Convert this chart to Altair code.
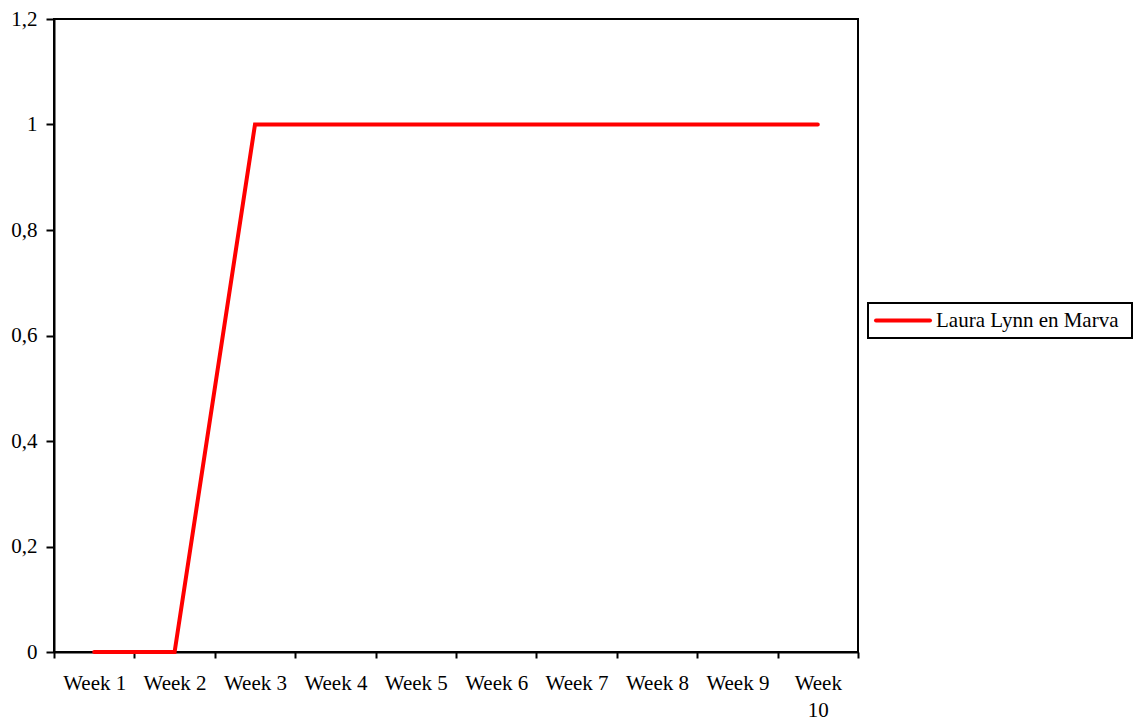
import altair as alt
import pandas as pd

weeks = ["Week 1", "Week 2", "Week 3", "Week 4", "Week 5",
         "Week 6", "Week 7", "Week 8", "Week 9", "Week 10"]
values = [0, 0, 1, 1, 1, 1, 1, 1, 1, 1]
series = "Laura Lynn en Marva"
line_color = "#ff0000"

df = pd.DataFrame({"week": weeks, "value": values, "series": [series] * len(weeks)})
legend_df = pd.DataFrame({"series": [series]})

FONT = "Liberation Serif"
FONT_SIZE = 21

line = (
    alt.Chart(df)
    .mark_line(strokeWidth=4, strokeCap="round", color=line_color)
    .encode(
        x=alt.X(
            "week:N",
            sort=weeks,
            bandPosition=0.5,
            scale=alt.Scale(type="band", paddingInner=0, paddingOuter=0),
            axis=alt.Axis(
                title=None,
                labelAngle=0,
                tickBand="extent",
                labelExpr="datum.value == 'Week 10' ? ['Week', '10'] : datum.value",
                labelLineHeight=27,
                labelPadding=14,
                tickSize=6,
            ),
        ),
        y=alt.Y(
            "value:Q",
            scale=alt.Scale(domain=[0, 1.2], nice=False),
            axis=alt.Axis(
                title=None,
                values=[0, 0.2, 0.4, 0.6, 0.8, 1.0, 1.2],
                labelExpr="replace(format(datum.value, '.1~f'), '.', ',')",
                labelPadding=9,
                tickSize=8,
                grid=False,
            ),
        ),
    )
)

# Boxed legend to the right of the plot area
legend_box = (
    alt.Chart(legend_df)
    .mark_rect(fill="white", stroke="black", strokeWidth=2)
    .encode(
        x=alt.value(814), x2=alt.value(1078),
        y=alt.value(284), y2=alt.value(319),
    )
)
legend_swatch = (
    alt.Chart(legend_df)
    .mark_rule(color=line_color, strokeWidth=4, strokeCap="round")
    .encode(
        x=alt.value(822), x2=alt.value(876),
        y=alt.value(301.5),
    )
)
legend_label = (
    alt.Chart(legend_df)
    .mark_text(align="left", baseline="middle", font=FONT, fontSize=FONT_SIZE, color="black")
    .encode(
        x=alt.value(882), y=alt.value(302),
        text="series:N",
    )
)

chart = (
    alt.layer(line, legend_box, legend_swatch, legend_label)
    .properties(
        width=804,
        height=633,
        autosize=alt.AutoSizeParams(type="none"),
        padding={"left": 54, "top": 19, "right": 285, "bottom": 70},
        background="white",
    )
    .configure_view(stroke="black", strokeWidth=2)
    .configure_axis(
        domainColor="black",
        domainWidth=2,
        tickColor="black",
        tickWidth=2,
        labelFont=FONT,
        labelFontSize=FONT_SIZE,
        labelColor="black",
        grid=False,
    )
)

chart.save("out.html", embed_options={"renderer": "svg", "actions": False})
